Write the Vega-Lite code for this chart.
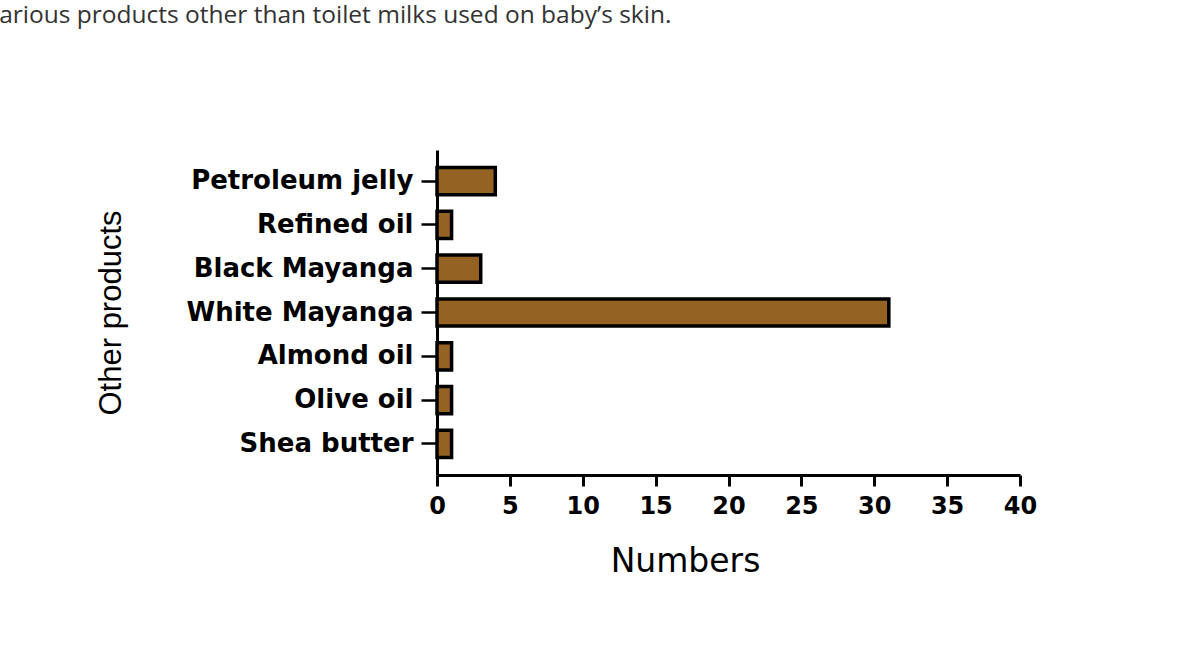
{
  "$schema": "https://vega.github.io/schema/vega-lite/v6.json",
  "autosize": {"type": "none"},
  "width": 583,
  "height": 325,
  "padding": {"left": 437, "top": 150, "right": 157, "bottom": 177},
  "background": "white",
  "title": {
    "text": "various products other than toilet milks used on baby’s skin.",
    "anchor": "start",
    "frame": "group",
    "orient": "top",
    "font": "Open Sans",
    "fontSize": 24.5,
    "fontWeight": "normal",
    "color": "#333333",
    "baseline": "alphabetic",
    "offset": 103,
    "dx": -450
  },
  "data": {
    "values": [
      {"product": "Petroleum jelly", "count": 4},
      {"product": "Refined oil", "count": 1},
      {"product": "Black Mayanga", "count": 3},
      {"product": "White Mayanga", "count": 31},
      {"product": "Almond oil", "count": 1},
      {"product": "Olive oil", "count": 1},
      {"product": "Shea butter", "count": 1}
    ]
  },
  "mark": {"type": "bar", "fill": "#946222", "stroke": "#000000", "strokeWidth": 3.5},
  "encoding": {
    "y": {
      "field": "product",
      "type": "nominal",
      "sort": null,
      "scale": {"paddingInner": 0.38, "paddingOuter": 0.4},
      "axis": {
        "title": "Other products",
        "titleFont": "Liberation Sans",
        "titleFontSize": 31,
        "titleFontWeight": "normal",
        "titleColor": "#000000",
        "titleX": -317,
        "titleY": 162.5,
        "titleAngle": -90,
        "titleAlign": "center",
        "titleBaseline": "alphabetic",
        "labelFont": "DejaVu Sans",
        "labelFontWeight": "bold",
        "labelFontSize": 26,
        "labelColor": "#000000",
        "labelLimit": 0,
        "labelPadding": 8,
        "tickSize": 16,
        "tickWidth": 2.5,
        "tickColor": "#000000",
        "domainColor": "#000000",
        "domainWidth": 3,
        "grid": false
      }
    },
    "x": {
      "field": "count",
      "type": "quantitative",
      "scale": {"domain": [0, 40], "nice": false},
      "axis": {
        "title": "Numbers",
        "titleFont": "DejaVu Sans",
        "titleFontSize": 33,
        "titleFontWeight": "normal",
        "titleColor": "#000000",
        "titlePadding": 27,
        "titleX": 248,
        "titleAnchor": "start",
        "titleAlign": "center",
        "values": [0, 5, 10, 15, 20, 25, 30, 35, 40],
        "labelFont": "DejaVu Sans",
        "labelFontWeight": "bold",
        "labelFontSize": 24,
        "labelColor": "#000000",
        "labelPadding": 8,
        "labelFlush": false,
        "tickSize": 11,
        "tickWidth": 3,
        "tickColor": "#000000",
        "domainColor": "#000000",
        "domainWidth": 3,
        "grid": false
      }
    }
  },
  "config": {"view": {"stroke": null}}
}
